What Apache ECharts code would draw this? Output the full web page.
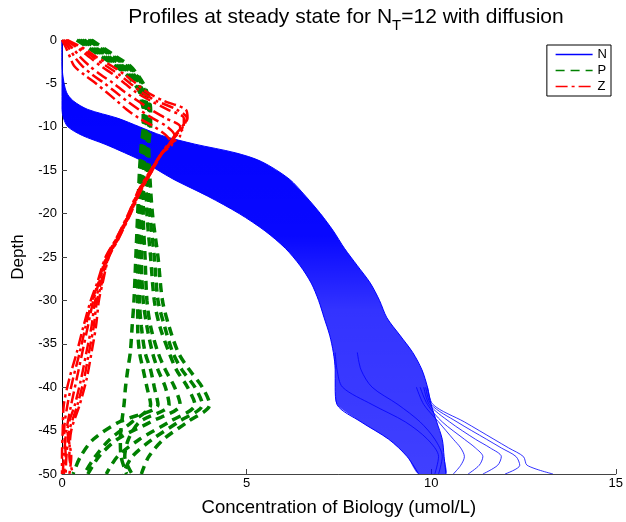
<!DOCTYPE html>
<html>
<head>
<meta charset="utf-8">
<script src="https://cdn.jsdelivr.net/npm/echarts@6/dist/echarts.min.js"></script>
<style>html,body{margin:0;padding:0;background:#fff}#c{width:626px;height:522px}</style>
</head>
<body>
<div id="c"></div>
<script>
// ---- Data ----
// N: depth grid and envelope profiles of the dense band
const depthN = [0,-2,-4,-6,-7,-8,-9,-10,-11,-12,-13,-14,-16,-18,-20,-22,-24,-26,-28,-30,-32,-34,-36,-38,-40,-42,-44,-46,-48,-50];
const nRight = [0,0,0.02,0.12,0.3,0.7,1.5,2.1,2.7,3.6,4.7,5.4,6.15,6.6,7.0,7.35,7.65,8.0,8.35,8.6,8.8,9.15,9.5,9.75,9.9,10.0,10.15,10.3,10.35,10.4];
const nLeft  = [0,0,0,0,0,0,0.04,0.16,0.55,1.16,1.7,2.2,3.0,3.95,4.8,5.5,6.05,6.45,6.75,6.95,7.1,7.25,7.35,7.4,7.4,7.45,8.1,8.85,9.35,9.66];
// N: deep profiles fanning out to the right
const depthW = [-40,-42,-44,-46,-47,-48,-49,-50];
const nW1 = [9.9,10.05,10.9,11.7,12.1,12.5,12.6,13.3];
const nW2 = [9.85,10.0,10.7,11.5,11.9,12.3,12.4,12.0];
const nW3 = [9.8,9.95,10.5,11.2,11.6,11.9,11.8,11.4];
const nW4 = [9.7,9.9,10.3,10.9,11.2,11.4,11.3,11.0];
const nW5 = [9.6,9.8,10.2,10.6,10.8,10.9,10.8,10.6];
const depthX = [-36,-38,-40,-42,-44,-46,-48,-50];
const nX1 = [7.4,7.45,7.6,8.4,9.3,9.9,10.2,10.1];
const nX2 = [8.0,8.1,8.4,9.1,9.7,10.1,10.3,10.2];
// P profiles
const depthP = [0,-1,-2,-3,-4,-5,-6,-7,-8,-10,-12,-15,-20,-25,-30,-33,-36,-38,-40,-42,-44,-46,-48,-50];
const p1 = [0.4,0.75,1.1,1.45,1.75,1.95,2.1,2.15,2.2,2.2,2.15,2.1,2.05,2.0,1.95,1.9,1.85,1.78,1.72,1.68,1.62,1.58,1.6,1.75];
const p2 = [0.5,0.85,1.2,1.55,1.85,2.05,2.15,2.22,2.25,2.25,2.2,2.15,2.1,2.1,2.1,2.15,2.25,2.4,2.5,2.6,1.55,0.85,0.5,0.3];
const p3 = [0.6,0.95,1.3,1.65,1.95,2.1,2.2,2.28,2.3,2.3,2.25,2.22,2.2,2.25,2.3,2.4,2.6,2.8,3.05,3.2,2.4,1.5,1.0,0.7];
const p4 = [0.7,1.05,1.4,1.75,2.0,2.15,2.25,2.32,2.35,2.35,2.3,2.28,2.3,2.4,2.5,2.65,2.9,3.1,3.4,3.6,2.9,2.1,1.5,1.2];
const p5 = [0.8,1.15,1.5,1.85,2.05,2.2,2.3,2.37,2.4,2.4,2.35,2.37,2.45,2.6,2.72,2.9,3.15,3.45,3.8,4.0,3.4,2.75,2.35,2.15];
const p6 = [0.55,0.9,1.25,1.6,1.9,2.08,2.18,2.25,2.28,2.28,2.22,2.18,2.15,2.15,2.2,2.3,2.45,2.6,2.8,2.9,2.1,1.8,1.7,1.9];
const p7 = [0.45,0.8,1.15,1.5,1.8,2.0,2.12,2.18,2.22,2.22,2.18,2.12,2.08,2.05,2.05,2.05,2.1,2.2,2.3,2.4,1.9,1.3,0.9,0.6];
const p8 = [0.75,1.1,1.45,1.8,2.02,2.18,2.28,2.35,2.38,2.38,2.33,2.32,2.38,2.5,2.6,2.78,3.0,3.25,3.6,3.8,3.15,2.45,1.9,1.65];
// Z profiles
const depthZ = [0,-1,-2,-3,-4,-5,-6,-7,-8,-9,-10,-11,-12,-13,-15,-17.5,-20,-23,-25,-28,-30,-33,-36,-39,-42,-45,-48,-50];
const z1 = [0.15,0.6,0.95,1.35,1.7,2.0,2.3,2.75,3.35,3.4,3.25,3.05,2.9,2.72,2.45,2.12,1.86,1.52,1.27,1.1,1.0,0.92,0.8,0.67,0.48,0.25,0.2,0.3];
const z2 = [0.1,0.45,0.75,1.05,1.4,1.7,2.0,2.4,2.85,3.3,3.3,3.1,2.88,2.7,2.44,2.1,1.84,1.5,1.24,1.05,0.9,0.8,0.66,0.52,0.35,0.15,0.25,0.2];
const z3 = [0.05,0.3,0.5,0.75,1.05,1.4,1.7,2.05,2.4,2.8,3.2,3.2,2.92,2.7,2.42,2.08,1.82,1.48,1.22,1.0,0.85,0.7,0.55,0.4,0.25,0.12,0.05,0.02];
const z4 = [0,0.12,0.22,0.33,0.6,0.92,1.2,1.48,1.75,2.08,2.5,2.82,2.98,2.72,2.4,2.05,1.8,1.45,1.18,0.95,0.78,0.58,0.4,0.2,0.05,0.02,0,0];
const z5 = [0.12,0.52,0.85,1.2,1.55,1.85,2.15,2.55,3.1,3.38,3.28,3.08,2.9,2.71,2.45,2.11,1.85,1.51,1.26,1.08,0.95,0.86,0.73,0.6,0.42,0.2,0.12,0.1];
const z6 = [0.02,0.2,0.35,0.55,0.82,1.15,1.45,1.75,2.08,2.45,2.85,3.05,2.95,2.71,2.41,2.06,1.81,1.46,1.2,0.98,0.82,0.64,0.48,0.3,0.15,0.06,0.1,0.05];
// ticks
const xTicks = [0,5,10,15];
const yTicks = [0,-5,-10,-15,-20,-25,-30,-35,-40,-45,-50];

// ---- Build chart ----
const FONT = 'Liberation Sans, Arial, Helvetica, sans-serif';
const BLUE = '#0000ff', GREEN = '#008000', RED = '#ff0000';
function pairs(xs, ds){ return xs.map((x,i)=>[x, ds[i]]); }
function lineS(name, xs, ds, color, width, dash){
  return {type:'line', name:name, data:pairs(xs,ds), showSymbol:false, symbol:'none', smooth:0.3,
    lineStyle:{color:color, width:width, type:dash||'solid'}, itemStyle:{color:color},
    silent:true, animation:false, z:2};
}
const series = [];
series.push(lineS('N', nRight, depthN, BLUE, 1));
series.push({
  type:'custom', name:'N band', coordinateSystem:'cartesian2d', silent:true, animation:false,
  data:[[nLeft[0], depthN[0]]], encode:{x:0,y:1}, clip:true, z:1,
  renderItem:function(params, api){
    const pts = [];
    for (let i=0;i<depthN.length;i++) pts.push(api.coord([nRight[i], depthN[i]]));
    for (let i=depthN.length-1;i>=0;i--) pts.push(api.coord([nLeft[i], depthN[i]]));
    return {type:'polygon', shape:{points:pts, smooth:0.25}, style:{
      fill:{type:'linear',x:0,y:0,x2:0,y2:1,colorStops:[
        {offset:0,color:'rgba(0,0,255,1)'},{offset:0.45,color:'rgba(0,0,255,0.97)'},
        {offset:0.62,color:'rgba(0,0,255,0.8)'},{offset:1,color:'rgba(0,0,255,0.75)'}]},
      stroke:null}};
  }
});
series.push(lineS('N', nLeft, depthN, BLUE, 1));
[[nW1,depthW],[nW2,depthW],[nW3,depthW],[nW4,depthW],[nW5,depthW],[nX1,depthX],[nX2,depthX]].forEach(a=>{
  series.push(lineS('N', a[0], a[1], BLUE, 0.8));
});
[p1,p2,p3,p4,p5,p6,p7,p8].forEach(p=>{
  const s = lineS('P', p, depthP, GREEN, 3.5, [9,6]); s.z = 3; series.push(s);
});
[z1,z2,z3,z4,z5,z6].forEach(z=>{
  const s = lineS('Z', z, depthZ, RED, 2.5, [12,4,3,4]); s.z = 4; series.push(s);
});

const chart = echarts.init(document.getElementById('c'), null, {renderer:'canvas'});
chart.setOption({
  animation:false,
  backgroundColor:'#fff',
  title:{
    text:'{a|Profiles at steady state for N}{s|T}{a|=12 with diffusion}',
    left:341, top:2, textAlign:'center',
    textStyle:{fontFamily:FONT, fontWeight:'normal', color:'#000', fontSize:21,
      rich:{a:{fontFamily:FONT, fontSize:21, color:'#000', verticalAlign:'top'},
            s:{fontFamily:FONT, fontSize:15, color:'#000', verticalAlign:'top', padding:[11,0,0,0]}}}
  },
  grid:{left:62, right:6, top:40, bottom:42, containLabel:false},
  legend:{
    data:['N','P','Z'], orient:'vertical', right:15, top:45,
    borderColor:'#000', borderWidth:1, padding:[3,4,3,8], backgroundColor:'#fff',
    itemWidth:37, itemHeight:12, itemGap:3,
    itemStyle:{opacity:0},
    lineStyle:{width:1.5},
    textStyle:{fontFamily:FONT, fontSize:13, color:'#000'}
  },
  xAxis:{
    type:'value', min:0, max:15, interval:5,
    name:'Concentration of Biology (umol/L)', nameLocation:'middle', nameGap:24,
    nameTextStyle:{fontFamily:FONT, fontSize:18.5, color:'#000'},
    axisLine:{show:true, onZero:false, lineStyle:{color:'#444', width:1}},
    axisTick:{show:true, inside:true, length:5, lineStyle:{color:'#444'}},
    axisLabel:{fontFamily:FONT, fontSize:13, color:'#000', margin:3,
      formatter:function(v){ return xTicks.indexOf(v)>=0 ? String(v) : ''; }},
    splitLine:{show:false}
  },
  yAxis:{
    type:'value', min:-50, max:0, interval:5,
    name:'Depth', nameLocation:'middle', nameGap:35,
    nameTextStyle:{fontFamily:FONT, fontSize:17, color:'#000'},
    axisLine:{show:true, onZero:false, lineStyle:{color:'#000', width:1}},
    axisTick:{show:true, inside:true, length:5, lineStyle:{color:'#444'}},
    axisLabel:{fontFamily:FONT, fontSize:13, color:'#000', margin:5,
      formatter:function(v){ return yTicks.indexOf(v)>=0 ? String(v) : ''; }},
    splitLine:{show:false}
  },
  series:series
});
</script>
</body>
</html>
